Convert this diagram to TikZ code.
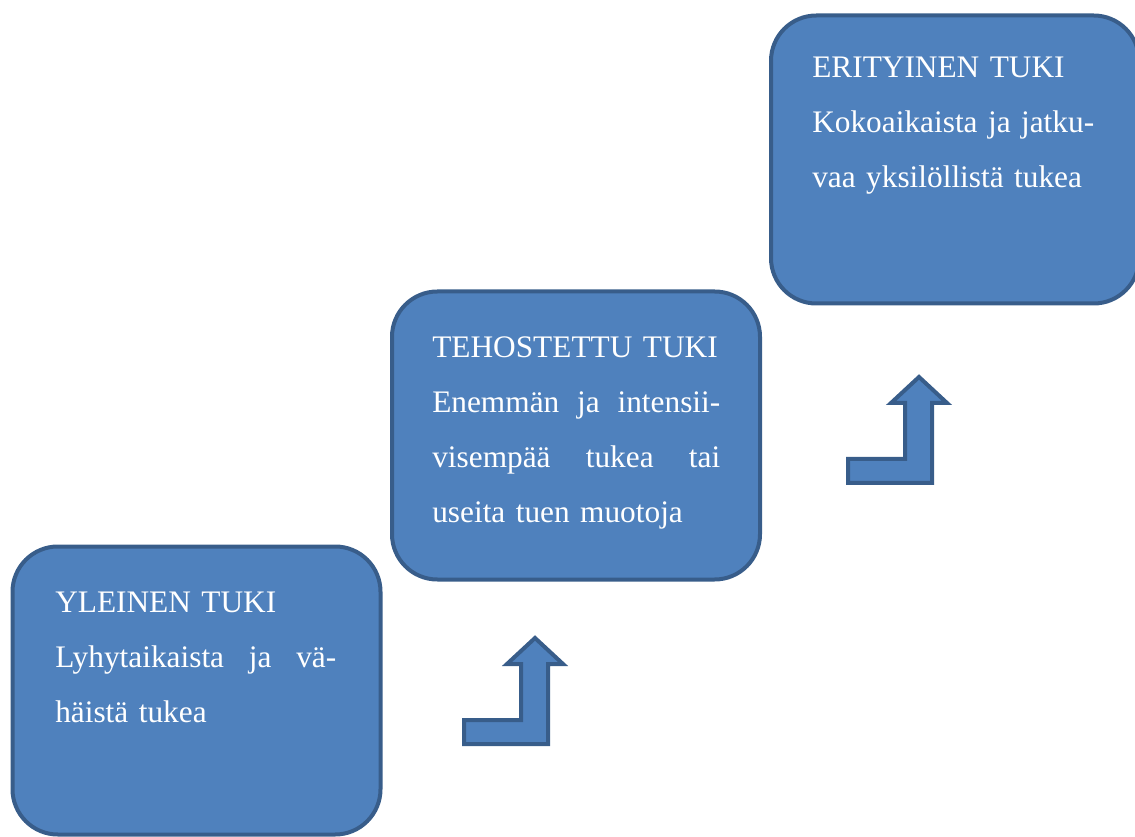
\documentclass[tikz,border=0pt]{standalone}
\usepackage{fontspec}
\setmainfont{Liberation Serif}
\definecolor{boxfill}{HTML}{4F81BD}
\definecolor{boxline}{HTML}{385D8A}

\begin{document}
\begin{tikzpicture}[
    x=0.75pt, y=-0.75pt,
    level/.style={draw=boxline, fill=boxfill, line width=3pt, rounded corners=34pt,
      minimum width=276pt, minimum height=216pt, inner sep=0pt},
    leveltext/.style={text=white, anchor=base west, align=left, inner sep=0pt,
      font=\fontsize{23.5pt}{41.25pt}\selectfont},
    bentarrow/.style={draw=boxline, fill=boxfill, line width=3pt, line join=miter}
  ]
    \useasboundingbox (0,0) rectangle (1135,837);
    % the three levels of support
    \node[level] (yleinen) at (196.5,690.5) {};
    \node[level] (tehostettu) at (576,435.5) {};
    \node[level] (erityinen) at (955,159.5) {};
    \node[leveltext, text width=210.75pt] (yleinen-txt) at (55,612)
      {YLEINEN TUKI\\ Lyhytaikaista\hfill ja\hfill vä-\\ häistä tukea};
    \node[leveltext, text width=216pt] (tehostettu-txt) at (432,358)
      {\mbox{TEHOSTETTU TUKI}\\ Enemmän\hfill ja\hfill intensii-\\
       visempää\hfill tukea\hfill tai\\ useita tuen muotoja};
    \node[leveltext, text width=220pt] (erityinen-txt) at (812,78)
      {ERITYINEN TUKI\\ Kokoaikaista ja jatku-\\ vaa yksilöllistä tukea};
    % step arrows
    \foreach \dx/\dy in {0/0, 384/-261}
      \draw[bentarrow, shift={(\dx,\dy)}] (464,744) -- (548,744) -- (548,664)
        -- (563,664) -- (535,638) -- (507,664) -- (521,664) -- (521,720)
        -- (464,720) -- cycle;
\end{tikzpicture}
\end{document}
